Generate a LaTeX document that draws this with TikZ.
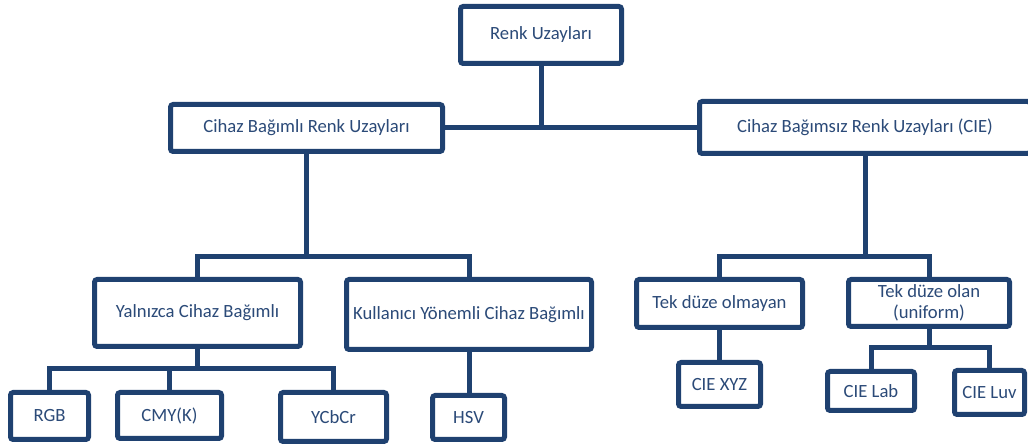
\documentclass[tikz,border=0pt]{standalone}
\usepackage{fontspec}
\setmainfont{Carlito}

\definecolor{boxline}{HTML}{1F4170}
\definecolor{boxtext}{HTML}{2B4A78}

\begin{document}
\begin{tikzpicture}[
                x=0.75pt, y=-0.75pt,
                box/.style 2 args={rectangle, draw=boxline, fill=white, line width=3.75pt,
                    rounded corners=2pt, inner sep=1pt, align=center,
                    text=boxtext, font=\fontsize{14}{15.8}\selectfont,
                    minimum width=#1*0.75pt, minimum height=#2*0.75pt},
                link/.style={draw=boxline, line width=3.75pt}
            ]

            \useasboundingbox (0,0) rectangle (1028,448);

            % top levels
            \node[box={161}{57}] (root) at (541,35) {Renk Uzayları};
            \node[box={272}{47}] (dep) at (306.5,128) {Cihaz Bağımlı Renk Uzayları};
            \node[box={331}{52}] (indep) at (865,127.5) {Cihaz Bağımsız Renk Uzayları (CIE)};

            % device dependent side
            \node[box={206}{67}] (onlydev) at (197.5,313) {Yalnızca Cihaz Bağımlı};
            \node[box={245}{70}] (userdev) at (469,314.5) {Kullanıcı Yönemli Cihaz Bağımlı};
            \node[box={78}{47}] (rgb) at (49.5,416) {RGB};
            \node[box={104}{46}] (cmyk) at (169.5,415.5) {CMY(K)};
            \node[box={106}{49}] (ycbcr) at (333.5,417) {YCbCr};
            \node[box={72}{44}] (hsv) at (468.5,417.5) {HSV};

            % device independent side
            \node[box={166}{48}] (nonuni) at (719.5,303.5) {Tek düze olmayan};
            \node[box={161}{47}] (uni) at (929,303) {Tek düze olan\\(uniform)};
            \node[box={82}{44}] (xyz) at (719.5,384.5) {CIE XYZ};
            \node[box={87}{39}] (lab) at (871,391) {CIE Lab};
            \node[box={70}{44}] (luv) at (989.5,392.5) {CIE Luv};

            \coordinate (busdep) at (306.5,257);
            \coordinate (busonly) at (197.5,369);
            \coordinate (busindep) at (865,257);
            \coordinate (busuni) at (929,348);

            \draw[link] (root.south) -- (root.south |- dep.east);
            \draw[link] (dep.east) -- (dep.east -| indep.west);

            \draw[link] (dep.south) -- (busdep);
            \draw[link] (onlydev.north) |- (busdep) -| (userdev.north);
            \draw[link] (onlydev.south) -- (busonly);
            \draw[link] (rgb.north) |- (busonly) -| (ycbcr.north);
            \draw[link] (cmyk.north) -- (cmyk.north |- busonly);
            \draw[link] (userdev.south) -- (userdev.south |- hsv.north);

            \draw[link] (indep.south) -- (busindep);
            \draw[link] (nonuni.north) |- (busindep) -| (uni.north);
            \draw[link] (nonuni.south) -- (xyz.north);
            \draw[link] (uni.south) -- (busuni);
            \draw[link] (lab.north) |- (busuni) -| (luv.north);

        \end{tikzpicture}
\end{document}
